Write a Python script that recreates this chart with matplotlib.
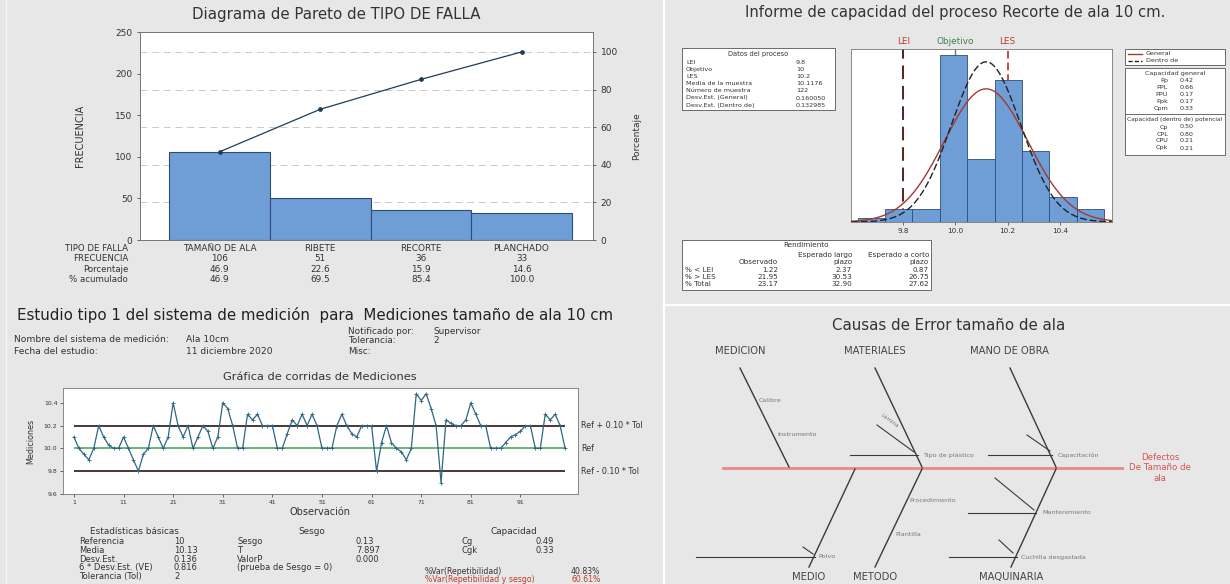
import numpy as np
import matplotlib
matplotlib.use('Agg')
import matplotlib.pyplot as plt
from matplotlib.patches import Rectangle
from matplotlib.transforms import blended_transform_factory as blend

W, H, DPI = 1230, 584, 100
plt.rcParams['font.family'] = ['DejaVu Sans']

# ---------------- data ----------------
pareto_cats = ["TAMAÑO DE ALA", "RIBETE", "RECORTE", "PLANCHADO"]
pareto_freq = [106, 51, 36, 33]
pareto_pct = [46.9, 22.6, 15.9, 14.6]
pareto_cum = [46.9, 69.5, 85.4, 100.0]
pareto_rows = ["TIPO DE FALLA", "FRECUENCIA", "Porcentaje", "% acumulado"]

hist_edges = [9.625, 9.73, 9.835, 9.94, 10.045, 10.15, 10.255, 10.36, 10.465, 10.57]
hist_counts = [1, 3, 3, 40, 15, 34, 17, 6, 3]
LEI, OBJ, LES = 9.8, 10.0, 10.2
media_cap = 10.1176
sd_general = 0.1600
sd_dentro = 0.1330
datos_proceso = [("LEI", "9.8"), ("Objetivo", "10"), ("LES", "10.2"),
                 ("Media de la muestra", "10.1176"), ("Número de muestra", "122"),
                 ("Desv.Est. (General)", "0.160050"), ("Desv.Est. (Dentro de)", "0.132985")]
cap_general = [("Pp", "0.42"), ("PPL", "0.66"), ("PPU", "0.17"), ("Ppk", "0.17"), ("Cpm", "0.33")]
cap_dentro = [("Cp", "0.50"), ("CPL", "0.80"), ("CPU", "0.21"), ("Cpk", "0.21")]
rend_rows = [("% < LEI", "1.22", "2.37", "0.87"),
             ("% > LES", "21.95", "30.53", "26.75"),
             ("% Total", "23.17", "32.90", "27.62")]

run_vals = [10.10, 10.00, 9.95, 9.90, 10.00, 10.20, 10.10, 10.03, 10.00, 10.00,
            10.10, 10.00, 9.90, 9.80, 9.95, 10.00, 10.20, 10.10, 10.00, 10.10,
            10.40, 10.20, 10.10, 10.20, 10.00, 10.10, 10.20, 10.15, 10.00, 10.10,
            10.40, 10.35, 10.20, 10.00, 10.00, 10.30, 10.25, 10.30, 10.20, 10.20,
            10.20, 10.00, 10.00, 10.13, 10.25, 10.20, 10.30, 10.20, 10.30, 10.20,
            10.00, 10.00, 10.00, 10.20, 10.30, 10.20, 10.13, 10.10, 10.20, 10.20,
            10.20, 9.80, 10.05, 10.20, 10.05, 10.00, 9.97, 9.90, 10.00, 10.48,
            10.42, 10.48, 10.35, 10.20, 9.70, 10.25, 10.22, 10.20, 10.20, 10.25,
            10.40, 10.30, 10.20, 10.20, 10.00, 10.00, 10.00, 10.05, 10.10, 10.12,
            10.15, 10.20, 10.20, 10.00, 10.00, 10.30, 10.25, 10.30, 10.20, 10.00]
run_obs = list(range(1, len(run_vals) + 1))
ref_val, tol = 10.0, 2.0
gauge_basic = [("Referencia", "10"), ("Media", "10.13"), ("Desv.Est.", "0.136"),
               ("6 * Desv.Est. (VE)", "0.816"), ("Tolerancia (Tol)", "2")]
gauge_sesgo = [("Sesgo", "0.13"), ("T", "7.897"), ("ValorP", "0.000"),
               ("(prueba de Sesgo = 0)", "")]
gauge_cap = [("Cg", "0.49"), ("Cgk", "0.33")]
gauge_var = [("%Var(Repetibilidad)", "40.83%"), ("%Var(Repetibilidad y sesgo)", "60.61%")]

fish_top = ["MEDICION", "MATERIALES", "MANO DE OBRA"]
fish_bottom = ["MEDIO", "METODO", "MAQUINARIA"]
fish_effect = "Defectos\nDe Tamaño de\nala"

# ---------------- figure ----------------
BG = '#e7e7e7'
TXT = '#333333'
BLUE = '#6f9dd6'
fig = plt.figure(figsize=(W / DPI, H / DPI), dpi=DPI, facecolor=BG)
ov = fig.add_axes([0, 0, 1, 1])
ov.set_xlim(0, W); ov.set_ylim(H, 0); ov.axis('off')


def ax_px(l, t, r, b):
    return fig.add_axes([l / W, 1 - b / H, (r - l) / W, (b - t) / H])


def T(x, y, s, size=4.6, ha='left', va='center', color=TXT, **kw):
    ov.text(x, y, s, fontsize=size, ha=ha, va=va, color=color, **kw)


# separators
ov.plot([664, 664], [0, H], color='white', lw=1.6)
ov.plot([664, W], [305, 305], color='white', lw=1.6)
ov.plot([6, 6], [0, H], color='#f5f5f5', lw=1.0)

# ================= Pareto =================
T(336, 15, "Diagrama de Pareto de TIPO DE FALLA", size=10.8, ha='center')
a1 = ax_px(140, 32, 593, 240)
a1.set_facecolor('white')
xs = np.arange(len(pareto_freq))
tot = sum(pareto_freq)
for p in [20, 40, 60, 80, 100]:
    a1.axhline(p / 100 * tot, color='#c8c8c8', lw=0.7, ls=(0, (7, 5)), zorder=0)
a1.bar(xs, pareto_freq, width=1.0, color=BLUE, edgecolor='#2d4c78', lw=0.8, zorder=2)
a1.set_xlim(-0.79, 3.71)
a1.set_ylim(0, 250)
a1.set_yticks([0, 50, 100, 150, 200, 250])
a1.set_yticklabels(["0", "50", "100", "150", "200", "250"])
a1.set_xticks([])
a1.tick_params(axis='y', labelsize=6.5, colors=TXT, length=2.5, width=0.5, pad=3)
a1.set_ylabel("FRECUENCIA", fontsize=7, color=TXT, labelpad=22)
a1b = a1.twinx()
a1b.set_ylim(0, 250 / tot * 100)
a1b.set_yticks([0, 20, 40, 60, 80, 100])
a1b.tick_params(axis='y', labelsize=6.5, colors=TXT, length=2.5, width=0.5, pad=3)
a1b.set_ylabel("Porcentaje", fontsize=6.5, color=TXT, labelpad=10)
a1b.plot(xs, pareto_cum, color='#1f3b5c', lw=0.9, marker='o', ms=2.4, zorder=3)
for a in (a1, a1b):
    for s in a.spines.values():
        s.set_color('#777777'); s.set_linewidth(0.6)
tb = blend(a1.transData, ov.transData)
row_y = [248.5, 258.5, 269, 279.5]
for ry, lab in zip(row_y, pareto_rows):
    T(128, ry, lab, size=6.2, ha='right')
for i in xs:
    vals = [pareto_cats[i], str(pareto_freq[i]), f"{pareto_pct[i]:.1f}", f"{pareto_cum[i]:.1f}"]
    for ry, v in zip(row_y, vals):
        ov.text(i, ry, v, transform=tb, fontsize=6.4, ha='center', va='center', color=TXT)

# ================= Capability =================
T(955, 12, "Informe de capacidad del proceso Recorte de ala 10 cm.", size=10.6, ha='center')
a2 = ax_px(851, 49, 1112, 222)
a2.set_facecolor('white')
edges = np.array(hist_edges)
a2.bar(edges[:-1], hist_counts, width=np.diff(edges), align='edge', color=BLUE,
       edgecolor='#2d4c78', lw=0.6, zorder=2)
a2.axvline(LEI, color='#5a1f1f', lw=1.4, ls=(0, (7, 3.5)), zorder=1)
a2.axvline(OBJ, color='#3f8f4f', lw=1.0, ls=(0, (5, 3)), zorder=1)
a2.axvline(LES, color='#c0504d', lw=1.4, ls=(0, (4, 2)), zorder=1)
a2.set_xlim(9.6, 10.6)
a2.set_ylim(0, 41.5)
a2.set_xticks([9.8, 10.0, 10.2, 10.4])
a2.set_xticklabels(["9.8", "10.0", "10.2", "10.4"])
a2.set_yticks([])
a2.tick_params(axis='x', labelsize=5.2, colors=TXT, length=2.5, width=0.5, pad=2)
for s in a2.spines.values():
    s.set_color('#777777'); s.set_linewidth(0.6)
xx = np.linspace(9.6, 10.6, 400)
nw = sum(hist_counts) * np.mean(np.diff(edges))
pdf = lambda x, m, s: np.exp(-0.5 * ((x - m) / s) ** 2) / (s * np.sqrt(2 * np.pi))
a2.plot(xx, nw * pdf(xx, media_cap, sd_general), color='#a33a30', lw=1.0, zorder=3)
a2.plot(xx, nw * pdf(xx, media_cap, sd_dentro), color='#222222', lw=1.0, ls=(0, (5, 2)), zorder=3)
tb2 = blend(a2.transData, ov.transData)
for xv, lab, c in [(LEI, "LEI", '#c0392b'), (OBJ, "Objetivo", '#3f7f4f'), (LES, "LES", '#c0392b')]:
    ov.text(xv, 42, lab, transform=tb2, fontsize=6.4, ha='center', va='center', color=c)

# process data box
ov.add_patch(Rectangle((682, 48), 153, 62, facecolor='white', edgecolor='#555555', lw=0.6))
T(758, 54, "Datos del proceso", size=4.8, ha='center')
for k, (lab, v) in enumerate(datos_proceso):
    y = 62 + k * 7.2
    T(686, y, lab, size=4.6)
    T(796, y, v, size=4.6)

# legend box
ov.add_patch(Rectangle((1125, 49), 100, 16, facecolor='white', edgecolor='#555555', lw=0.6))
ov.plot([1128, 1142], [53.5, 53.5], color='#a33a30', lw=1.0)
ov.plot([1128, 1142], [60.5, 60.5], color='#222222', lw=1.0, ls=(0, (3, 1.5)))
T(1146, 53.5, "General", size=4.6)
T(1146, 60.5, "Dentro de", size=4.6)
# capability box
ov.add_patch(Rectangle((1125, 68), 100, 87, facecolor='white', edgecolor='#555555', lw=0.6))
ov.plot([1125, 1225], [114, 114], color='#555555', lw=0.6)
T(1175, 73, "Capacidad general", size=4.6, ha='center')
for k, (lab, v) in enumerate(cap_general):
    y = 80.5 + k * 7
    T(1168, y, lab, size=4.6, ha='right')
    T(1180, y, v, size=4.6)
T(1175, 119, "Capacidad (dentro de) potencial", size=4.2, ha='center')
for k, (lab, v) in enumerate(cap_dentro):
    y = 127 + k * 7
    T(1168, y, lab, size=4.6, ha='right')
    T(1180, y, v, size=4.6)

# rendimiento box
ov.add_patch(Rectangle((682, 240), 249, 50, facecolor='white', edgecolor='#555555', lw=0.6))
T(806, 245, "Rendimiento", size=5.2, ha='center')
T(852, 255, "Esperado largo", size=5.2, ha='right')
T(852, 262, "plazo", size=5.2, ha='right')
T(929, 255, "Esperado a corto", size=5.2, ha='right')
T(929, 262, "plazo", size=5.2, ha='right')
T(778, 262, "Observado", size=5.2, ha='right')
for k, (lab, o, l, c) in enumerate(rend_rows):
    y = 270 + k * 7
    T(685, y, lab, size=5.2)
    T(778, y, o, size=5.2, ha='right')
    T(852, y, l, size=5.2, ha='right')
    T(929, y, c, size=5.2, ha='right')

# ================= Type 1 gauge study =================
T(17, 315, "Estudio tipo 1 del sistema de medición  para  Mediciones tamaño de ala 10 cm",
  size=10.8, color='#222222')
T(14, 340, "Nombre del sistema de medición:", size=6.6)
T(186, 340, "Ala 10cm", size=6.6)
T(14, 351, "Fecha del estudio:", size=6.6)
T(186, 351, "11 diciembre 2020", size=6.6)
T(348, 331, "Notificado por:", size=6.4)
T(433, 331, "Supervisor", size=6.4)
T(348, 340.5, "Tolerancia:", size=6.4)
T(433, 340.5, "2", size=6.4)
T(348, 351, "Misc:", size=6.4)
T(320, 377, "Gráfica de corridas de Mediciones", size=8.2, ha='center')

a3 = ax_px(63, 388, 578, 494)
a3.set_facecolor('white')
a3.hlines(ref_val, run_obs[0], run_obs[-1], color='#5fae6e', lw=1.3, zorder=1)
a3.hlines([ref_val + 0.1 * tol, ref_val - 0.1 * tol], run_obs[0], run_obs[-1],
          color='#2a1515', lw=1.2, zorder=1)
a3.plot(run_obs, run_vals, color='#2f6682', lw=0.9, marker='+', ms=3, mew=0.6, zorder=2)
a3.set_xlim(-1.2, 102.6)
a3.set_ylim(9.6, 10.53)
a3.set_yticks([9.6, 9.8, 10.0, 10.2, 10.4])
a3.set_yticklabels(["9.6", "9.8", "10.0", "10.2", "10.4"])
a3.set_xticks(list(range(1, 100, 10)))
a3.tick_params(labelsize=4.4, colors=TXT, length=2, width=0.5, pad=2)
a3.set_xlabel("Observación", fontsize=7, color=TXT, labelpad=2)
a3.set_ylabel("Mediciones", fontsize=5.8, color=TXT, labelpad=6)
for s in a3.spines.values():
    s.set_color('#777777'); s.set_linewidth(0.6)
tb3 = blend(a3.transAxes, a3.transData)
for yv, lab in [(ref_val + 0.1 * tol, "Ref + 0.10 * Tol"), (ref_val, "Ref"),
                (ref_val - 0.1 * tol, "Ref - 0.10 * Tol")]:
    a3.text(1.006, yv, lab, transform=tb3, fontsize=5.8, ha='left', va='center', color=TXT)

T(134, 532, "Estadísticas básicas", size=6.4, ha='center')
for k, (lab, v) in enumerate(gauge_basic):
    y = 542 + k * 8.6
    T(79, y, lab, size=6.0)
    T(174, y, v, size=6.0)
T(312, 532, "Sesgo", size=6.4, ha='center')
for k, (lab, v) in enumerate(gauge_sesgo):
    y = 542 + k * 8.6
    T(237, y, lab, size=6.0)
    T(356, y, v, size=6.0)
T(514, 532, "Capacidad", size=6.4, ha='center')
for k, (lab, v) in enumerate(gauge_cap):
    y = 542 + k * 8.6
    T(462, y, lab, size=6.0)
    T(535, y, v, size=6.0)
for k, (lab, v) in enumerate(gauge_var):
    y = 571 + k * 8.5
    c = TXT if k == 0 else '#c0392b'
    T(425, y, lab, size=5.6, color=c)
    T(571, y, v, size=5.6, color=c)

# ================= Fishbone =================
T(949, 326, "Causas de Error tamaño de ala", size=10.8, ha='center')
spine_y = 468
ov.plot([723, 1122], [spine_y, spine_y], color='#e58a8a', lw=2.0)
T(1160, 468, fish_effect, size=6.2, ha='center', color='#d9534f', linespacing=1.2)
LC = '#3a3a3a'
SC = '#777777'
top_geom = [(789, 740), (922, 875), (1056, 1010)]
for (jx, sx), lab in zip(top_geom, fish_top):
    ov.plot([sx, jx], [368, spine_y - 1], color=LC, lw=1.0)
    T(sx, 351, lab, size=7.2, ha='center', color='#444444')
bot_geom = [(855, 809), (922, 875), (1056, 1011)]
for (jx, ex), lab in zip(bot_geom, fish_bottom):
    ov.plot([jx, ex], [spine_y + 1, 567], color=LC, lw=1.0)
    T(ex, 577, lab, size=7.2, ha='center', color='#444444')
# sub causes
SS = 4.6
T(759, 400, "Calibre", size=SS, color=SC)
T(777, 434, "Instrumento", size=SS, color=SC)
ov.plot([877, 914], [425, 452], color=LC, lw=0.8)
T(880, 421, "Lámina", size=SS - 0.6, color=SC, rotation=-36)
ov.plot([850, 918], [455, 455], color=LC, lw=0.8)
T(923, 455, "Tipo de plástico", size=SS, color=SC)
ov.plot([1027, 1050], [435, 451], color=LC, lw=0.8)
ov.plot([988, 1052], [455, 455], color=LC, lw=0.8)
T(1058, 455, "Capacitación", size=SS, color=SC)
ov.plot([696, 815], [557, 557], color=LC, lw=0.8)
ov.plot([803, 813], [547, 554], color=LC, lw=0.8)
T(818, 557, "Polvo", size=SS, color=SC)
T(909, 501, "Procedimiento", size=SS, color=SC)
T(895, 535, "Plantilla", size=SS, color=SC)
ov.plot([968, 1036], [513, 513], color=LC, lw=0.8)
ov.plot([995, 1034], [478, 510], color=LC, lw=0.8)
T(1042, 513, "Mantenimiento", size=SS, color=SC)
ov.plot([949, 1017], [557, 557], color=LC, lw=0.8)
ov.plot([999, 1013], [540, 553], color=LC, lw=0.8)
T(1021, 557, "Cuchilla desgastada", size=SS, color=SC)

fig.savefig('out.png', dpi=DPI, facecolor=BG)
